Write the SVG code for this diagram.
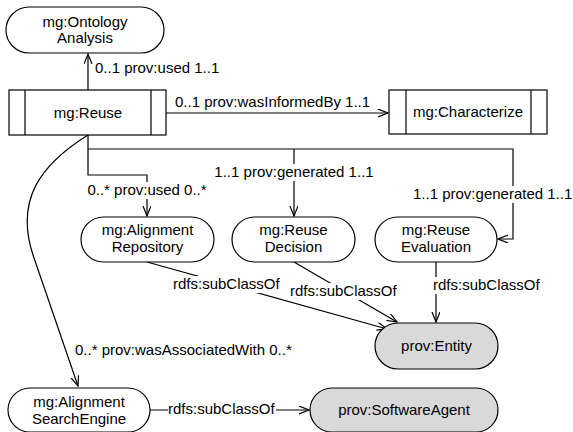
<svg xmlns="http://www.w3.org/2000/svg" width="573" height="432" viewBox="0 0 573 432">
  <style>
    text { font-family: "Liberation Sans", Arial, sans-serif; font-size: 15px; fill: #000; }
    .mid { text-anchor: middle; }
    .box { fill: #fff; stroke: #000; stroke-width: 1.2; }
    .grey { fill: #d9d9d9; stroke: #000; stroke-width: 1.2; }
    .bar { stroke: #000; stroke-width: 1.2; fill: none; }
    .edge { fill: none; stroke: #000; stroke-width: 1.2; }
    .bg { fill: #fff; stroke: none; }
  </style>
  <defs>
    <marker id="open" markerUnits="userSpaceOnUse" markerWidth="12" markerHeight="10" refX="10" refY="4" orient="auto">
      <path d="M0,0 L10,4 L0,8" fill="none" stroke="#000" stroke-width="1.2"/>
    </marker>
  </defs>

  <rect width="573" height="432" fill="#fff"/>

  <!-- connectors -->
  <g id="connectors">
    <path class="edge" d="M88,90 V54" marker-end="url(#open)"/>
    <path class="edge" d="M166,113 H388" marker-end="url(#open)"/>
    <path class="edge" d="M88,135 V175 H147 V216" marker-end="url(#open)"/>
    <path class="edge" d="M88,149 H513 V239 H498" marker-end="url(#open)"/>
    <path class="edge" d="M294,149 V216" marker-end="url(#open)"/>
    <path class="edge" d="M88,135 C40,165 15,200 33,255 L78,386" marker-end="url(#open)"/>
    <path class="edge" d="M147,262 L387,329" marker-end="url(#open)"/>
    <path class="edge" d="M294,262 L397,322" marker-end="url(#open)"/>
    <path class="edge" d="M436,262 V322" marker-end="url(#open)"/>
    <path class="edge" d="M150,410 H309" marker-end="url(#open)"/>

    <!-- labels -->
    <text x="95" y="73">0..1 prov:used 1..1</text>
    <text x="175" y="107">0..1 prov:wasInformedBy 1..1</text>
    <rect class="bg" x="213" y="164" width="162" height="17"/>
    <text class="mid" x="294" y="177">1..1 prov:generated 1..1</text>
    <rect class="bg" x="85" y="182" width="124" height="17"/>
    <text class="mid" x="147" y="195">0..* prov:used 0..*</text>
    <rect class="bg" x="411" y="186" width="162" height="17"/>
    <text x="413" y="199">1..1 prov:generated 1..1</text>
    <rect class="bg" x="171" y="276" width="109" height="17"/>
    <text x="173" y="289">rdfs:subClassOf</text>
    <rect class="bg" x="288" y="283" width="111" height="17"/>
    <text x="290" y="296">rdfs:subClassOf</text>
    <rect class="bg" x="431" y="277" width="110" height="17"/>
    <text x="433" y="290">rdfs:subClassOf</text>
    <text x="75" y="355">0..* prov:wasAssociatedWith 0..*</text>
    <rect class="bg" x="168" y="401" width="108" height="17"/>
    <text x="168" y="414">rdfs:subClassOf</text>
  </g>

  <!-- nodes -->
  <g id="ontology-analysis">
    <rect class="box" x="6" y="7" width="158" height="46" rx="23" ry="23"/>
    <text class="mid" x="85" y="27">mg:Ontology</text>
    <text class="mid" x="85" y="43">Analysis</text>
  </g>
  <g id="reuse">
    <rect class="box" x="9" y="90" width="157" height="45"/>
    <path class="bar" d="M25,90 V135 M151,90 V135"/>
    <text class="mid" x="88" y="118">mg:Reuse</text>
  </g>
  <g id="characterize">
    <rect class="box" x="389" y="90" width="158" height="44"/>
    <path class="bar" d="M406,90 V134 M531,90 V134"/>
    <text class="mid" x="468" y="117">mg:Characterize</text>
  </g>
  <g id="alignment-repository">
    <rect class="box" x="81" y="217" width="133" height="45" rx="22.5" ry="22.5"/>
    <text class="mid" x="147.5" y="235">mg:Alignment</text>
    <text class="mid" x="147.5" y="252">Repository</text>
  </g>
  <g id="reuse-decision">
    <rect class="box" x="232" y="217" width="123" height="45" rx="22.5" ry="22.5"/>
    <text class="mid" x="293.5" y="235">mg:Reuse</text>
    <text class="mid" x="293.5" y="252">Decision</text>
  </g>
  <g id="reuse-evaluation">
    <rect class="box" x="375" y="217" width="122" height="45" rx="22.5" ry="22.5"/>
    <text class="mid" x="436" y="235">mg:Reuse</text>
    <text class="mid" x="436" y="252">Evaluation</text>
  </g>
  <g id="prov-entity">
    <rect class="grey" x="375" y="323" width="123" height="46" rx="23" ry="23"/>
    <text class="mid" x="436.5" y="351">prov:Entity</text>
  </g>
  <g id="alignment-search-engine">
    <rect class="box" x="8" y="388" width="142" height="44" rx="22" ry="22"/>
    <text class="mid" x="79" y="407">mg:Alignment</text>
    <text class="mid" x="79" y="424">SearchEngine</text>
  </g>
  <g id="prov-software-agent">
    <rect class="grey" x="310" y="388" width="188" height="44" rx="22" ry="22"/>
    <text class="mid" x="404" y="415">prov:SoftwareAgent</text>
  </g>
</svg>
